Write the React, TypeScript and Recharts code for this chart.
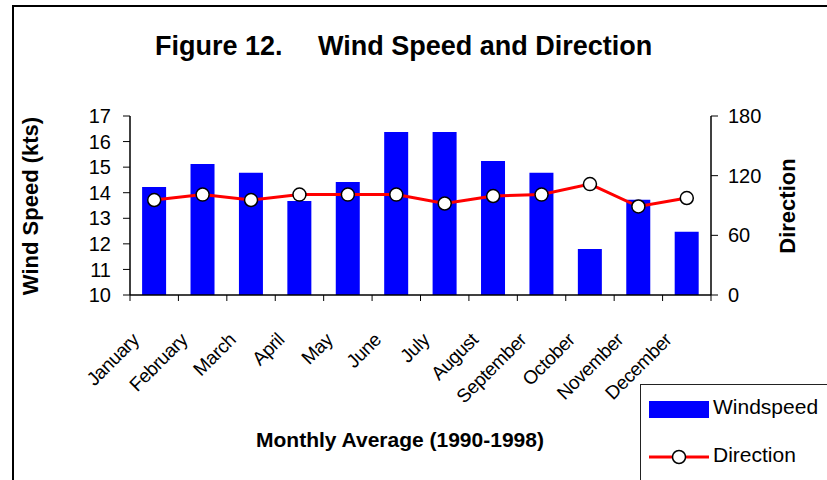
import { Bar, ComposedChart, Line, XAxis, YAxis } from "recharts";

const months = [
    "January", "February", "March", "April", "May", "June",
    "July", "August", "September", "October", "November", "December",
];
const windSpeed = [14.22, 15.12, 14.78, 13.68, 14.42, 16.37, 16.37, 15.24, 14.78, 11.8, 13.72, 12.47];
const direction = [95.5, 101, 95.5, 101, 101, 101, 92, 99.5, 101, 111.5, 89, 97.5];
const speedTicks = [10, 11, 12, 13, 14, 15, 16, 17];
const directionTicks = [0, 60, 120, 180];

const data = months.map((month, i) => ({
    month,
    Windspeed: windSpeed[i],
    Direction: direction[i],
}));

const FONT = "'Liberation Sans', Arial, sans-serif";

function MonthTick(props: any) {
    const { x, y, payload, index } = props;
    const half = payload.offset ?? 24;
    const tx = x - 14;
    const ty = y + 46;
    return (
        <g>
            <line x1={x - half} y1={y} x2={x - half} y2={y + 6} stroke="#000" strokeWidth={1} />
            {index === months.length - 1 && (
                <line x1={x + half} y1={y} x2={x + half} y2={y + 6} stroke="#000" strokeWidth={1} />
            )}
            <text
                x={tx}
                y={ty}
                textAnchor="end"
                fontSize={19}
                fontFamily={FONT}
                fill="#000"
                letterSpacing={-0.4}
                transform={`rotate(-45, ${tx}, ${ty})`}
            >
                {payload.value}
            </text>
        </g>
    );
}

export default function App() {
    return (
        <div
            style={{
                position: "absolute",
                left: 0,
                top: 0,
                width: 827,
                height: 480,
                overflow: "hidden",
                background: "#fff",
                fontFamily: FONT,
            }}
        >
            <div
                style={{
                    position: "absolute",
                    left: 12,
                    top: 5,
                    width: 1000,
                    height: 1000,
                    borderLeft: "2px solid #000",
                    borderTop: "2px solid #000",
                }}
            />
            <div style={{ position: "absolute", left: 0, top: 0 }}>
                <ComposedChart
                    width={827}
                    height={480}
                    data={data}
                    margin={{ top: 116, right: 56, bottom: 125, left: 70 }}
                    barCategoryGap="25%"
                >
                    <XAxis
                        dataKey="month"
                        height={60}
                        interval={0}
                        tickSize={0}
                        tickMargin={0}
                        tickLine={false}
                        axisLine={{ stroke: "#000", strokeWidth: 1.5 }}
                        tick={<MonthTick />}
                    />
                    <XAxis
                        xAxisId="top"
                        dataKey="month"
                        orientation="top"
                        height={0}
                        tick={false}
                        tickLine={false}
                        axisLine={{ stroke: "#000", strokeWidth: 1.5 }}
                    />
                    <YAxis
                        yAxisId="speed"
                        width={60}
                        domain={[10, 17]}
                        ticks={speedTicks}
                        interval={0}
                        tickSize={7}
                        tickMargin={12}
                        axisLine={{ stroke: "#000", strokeWidth: 1.5 }}
                        tickLine={{ stroke: "#000" }}
                        tick={{ fill: "#000", fontSize: 20, fontFamily: FONT }}
                    />
                    <YAxis
                        yAxisId="dir"
                        orientation="right"
                        width={60}
                        domain={[0, 180]}
                        ticks={directionTicks}
                        interval={0}
                        tickSize={7}
                        tickMargin={10}
                        axisLine={{ stroke: "#000", strokeWidth: 1.5 }}
                        tickLine={{ stroke: "#000" }}
                        tick={{ fill: "#000", fontSize: 20, fontFamily: FONT }}
                    />
                    <Bar yAxisId="speed" dataKey="Windspeed" fill="#0000ff" isAnimationActive={false} />
                    <Line
                        yAxisId="dir"
                        type="linear"
                        dataKey="Direction"
                        stroke="#ff0000"
                        strokeWidth={3}
                        dot={{ r: 6.5, fill: "#fff", stroke: "#000", strokeWidth: 1.5 }}
                        isAnimationActive={false}
                    />
                </ComposedChart>
            </div>
            <svg
                width={827}
                height={480}
                style={{ position: "absolute", left: 0, top: 0, pointerEvents: "none" }}
            >
                <text x={155} y={55} fontSize={27} fontWeight="bold" fontFamily={FONT} fill="#000">
                    Figure 12.
                </text>
                <text x={318} y={55} fontSize={27} fontWeight="bold" fontFamily={FONT} fill="#000">
                    Wind Speed and Direction
                </text>
                <text
                    x={38}
                    y={206}
                    fontSize={22}
                    fontWeight="bold"
                    fontFamily={FONT}
                    textAnchor="middle"
                    fill="#000"
                    transform="rotate(-90, 38, 206)"
                >
                    Wind Speed (kts)
                </text>
                <text
                    x={795}
                    y={206}
                    fontSize={22}
                    fontWeight="bold"
                    fontFamily={FONT}
                    textAnchor="middle"
                    fill="#000"
                    transform="rotate(-90, 795, 206)"
                >
                    Direction
                </text>
                <text
                    x={400}
                    y={447}
                    fontSize={21}
                    fontWeight="bold"
                    fontFamily={FONT}
                    textAnchor="middle"
                    fill="#000"
                >
                    Monthly Average (1990-1998)
                </text>
            </svg>
            <div
                style={{
                    position: "absolute",
                    left: 640,
                    top: 384,
                    width: 300,
                    height: 200,
                    border: "1.5px solid #222",
                    background: "#fff",
                }}
            >
                <div style={{ position: "absolute", left: 8, top: 16, width: 60, height: 17, background: "#0000ff" }} />
                <div style={{ position: "absolute", left: 72, top: 10, fontSize: 21, color: "#000" }}>Windspeed</div>
                <svg width={62} height={20} style={{ position: "absolute", left: 8, top: 62 }}>
                    <line x1={0} y1={10} x2={60} y2={10} stroke="#ff0000" strokeWidth={3} />
                    <circle cx={30} cy={10} r={6.5} fill="#fff" stroke="#000" strokeWidth={1.5} />
                </svg>
                <div style={{ position: "absolute", left: 72, top: 58, fontSize: 21, color: "#000" }}>Direction</div>
            </div>
        </div>
    );
}
